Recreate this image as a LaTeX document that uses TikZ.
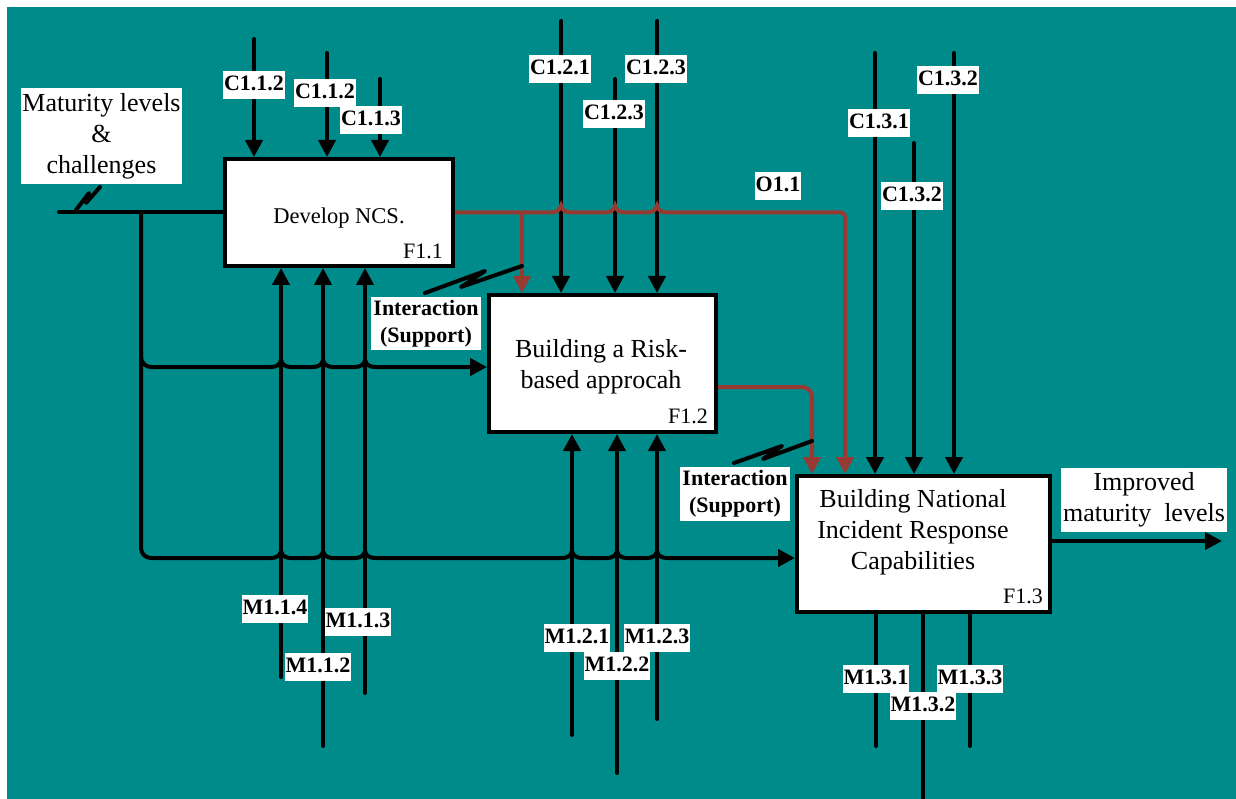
\documentclass[tikz,border=0pt]{standalone}
\usepackage{fontspec}
\setmainfont{Liberation Serif}
\usetikzlibrary{arrows.meta}
\definecolor{bgteal}{RGB}{0,139,139}
\definecolor{flowred}{RGB}{150,58,50}

\begin{document}
\begin{tikzpicture}[x=1pt,y=-1pt,
  ln/.style={line width=4pt, draw=black},
  arr/.style={ln, -{Triangle[length=17pt,width=17pt]}},
  brarr/.style={line width=4pt, draw=flowred, -{Triangle[length=17pt,width=17pt]}},
  fbox/.style={draw=black, fill=white, line width=4pt, inner sep=0pt},
  tag/.style={fill=white, inner xsep=1pt, inner ysep=4pt,
    font=\bfseries\fontsize{22}{26}\selectfont, text height=15.5pt, text depth=4.5pt},
  ilabel/.style={fill=white, align=center, inner xsep=2.5pt, inner ysep=3.5pt,
    font=\bfseries\fontsize{22}{27}\selectfont},
  body/.style={align=center, font=\fontsize{26}{31}\selectfont, inner sep=0pt},
  note/.style={body, fill=white, inner xsep=1pt, inner ysep=5pt},
  fid/.style={font=\fontsize{22}{26}\selectfont, inner sep=0pt, anchor=base east},
  brk/.style={line width=4pt, line join=round, line cap=round},
  hop/.style 2 args={insert path={-- ({#1-10},#2)
    .. controls ({#1-5},#2) and ({#1-1},{#2-2}) .. (#1,{#2-7})
    .. controls ({#1+1},{#2-2}) and ({#1+5},#2) .. ({#1+10},#2)}},
]
\useasboundingbox (0,0) rectangle (1236,799);
\fill[white] (0,0) rectangle (1236,799);
\fill[bgteal] (7,7) rectangle (1236,799);

% activity boxes
\node[fbox, minimum width=228pt, minimum height=107pt] (f11) at (339,212.5) {};
\node[fbox, minimum width=227pt, minimum height=137pt] (f12) at (602.5,363.5) {};
\node[fbox, minimum width=253pt, minimum height=136pt] (f13) at (923.5,544) {};

\node[font=\fontsize{22.5}{27}\selectfont, inner sep=0pt] (t11) at (339,218) {Develop NCS.};
\node[body] (t12) at (601,366.5) {Building a Risk-\\based approcah};
\node[body] (t13) at (913,532) {Building National\\Incident Response\\Capabilities};

\node[fid] (n11) at ([xshift=-12pt,yshift=9pt]f11.south east) {F1.1};
\node[fid] (n12) at ([xshift=-10pt,yshift=11pt]f12.south east) {F1.2};
\node[fid] (n13) at ([xshift=-9pt,yshift=11pt]f13.south east) {F1.3};

% input and its branches
\coordinate (inS) at (59,212);
\coordinate (inJ) at (141,212);
\coordinate (b1) at (141,367);
\coordinate (b2) at (141,558);
\draw[ln, line cap=round] (inS) -- (inS -| f11.west);
\draw[arr] (inJ) [rounded corners=10pt] -- (b2) -- ([xshift=40pt]b2) [sharp corners]
  [hop={281}{558}] [hop={323}{558}] [hop={365}{558}]
  [hop={572}{558}] [hop={617}{558}] [hop={657}{558}] -- (b2 -| f13.west);
\draw[arr] ([yshift=15pt]b1) [rounded corners=10pt] -- (b1) -- ([xshift=40pt]b1) [sharp corners]
  [hop={281}{367}] [hop={323}{367}] [hop={365}{367}] -- (b1 -| f12.west);
\draw[brk] (76,210) -- (89,193) -- (86,203) -- (100,187);

% output
\coordinate (oEnd) at (1222,541);
\draw[arr] (oEnd -| f13.east) -- (oEnd);

% controls
\coordinate (c112a) at (254,39);
\coordinate (c112b) at (327,53);
\coordinate (c113) at (380,79);
\coordinate (c121) at (561,21);
\coordinate (c123a) at (615,79);
\coordinate (c123b) at (657,21);
\coordinate (c131) at (875,53);
\coordinate (c132a) at (914,143);
\coordinate (c132b) at (954,53);
\foreach \c in {c112a,c112b,c113}
  \draw[arr, line cap=round] (\c) -- (\c |- f11.north);
\foreach \c in {c121,c123a,c123b}
  \draw[arr, line cap=round] (\c) -- (\c |- f12.north);
\foreach \c in {c131,c132a,c132b}
  \draw[arr, line cap=round] (\c) -- (\c |- f13.north);

% mechanisms
\coordinate (m114) at (281,677);
\coordinate (m112) at (323,746);
\coordinate (m113) at (365,693);
\coordinate (m121) at (572,735);
\coordinate (m122) at (617,773);
\coordinate (m123) at (657,719);
\coordinate (m131) at (876,746);
\coordinate (m132) at (923,799);
\coordinate (m133) at (970,746);
\foreach \m in {m114,m112,m113}
  \draw[arr, line cap=round] (\m) -- (\m |- f11.south);
\foreach \m in {m121,m122,m123}
  \draw[arr, line cap=round] (\m) -- (\m |- f12.south);
\foreach \m in {m131,m132,m133}
  \draw[ln, line cap=round] (\m |- f13.south) -- (\m);

% outputs feeding other activities
\coordinate (jo) at (522,212.5);
\coordinate (o11) at (845,212.5);
\coordinate (o12) at (812,387);
\draw[brarr] (f11.east) [hop={561}{212.5}] [hop={615}{212.5}] [hop={657}{212.5}]
  [rounded corners=4pt] -- (o11) -- (o11 |- f13.north);
\draw[brarr] (jo) -- (jo |- f12.north);
\draw[brarr, rounded corners=10pt] (f12.east |- o12) -- (o12) -- (o12 |- f13.north);
\draw[brk] (425,293) -- (485,271) -- (461,287) -- (522,266);
\draw[brk] (734,463) -- (782,446) -- (763,459) -- (812,441);

% labels
\node[note] (lin) at (101.5,136) {Maturity levels\\\&\\challenges};
\node[note, inner xsep=2pt] (lout) at (1144,500) {Improved\\maturity~~levels};
\node[ilabel] (li1) at (426,323.5) {Interaction\\(Support)};
\node[ilabel] (li2) at (735,494) {Interaction\\(Support)};
\node[tag] (lo11) at (778,186) {O1.1};

\node[tag] (lc112a) at (254,85) {C1.1.2};
\node[tag] (lc112b) at (325,93) {C1.1.2};
\node[tag] (lc113) at (371,120) {C1.1.3};
\node[tag] (lc121) at (560,69) {C1.2.1};
\node[tag] (lc123b) at (656,69) {C1.2.3};
\node[tag] (lc123a) at (614,114) {C1.2.3};
\node[tag] (lc131) at (879,123) {C1.3.1};
\node[tag] (lc132a) at (912,196) {C1.3.2};
\node[tag] (lc132b) at (948,80) {C1.3.2};

\node[tag] (lm114) at (275,609) {M1.1.4};
\node[tag] (lm113) at (358,622) {M1.1.3};
\node[tag] (lm112) at (318,667) {M1.1.2};
\node[tag] (lm121) at (577,638) {M1.2.1};
\node[tag] (lm123) at (657,638) {M1.2.3};
\node[tag] (lm122) at (617,666) {M1.2.2};
\node[tag] (lm131) at (876,679) {M1.3.1};
\node[tag] (lm133) at (970,679) {M1.3.3};
\node[tag] (lm132) at (923,706) {M1.3.2};
\end{tikzpicture}
\end{document}
